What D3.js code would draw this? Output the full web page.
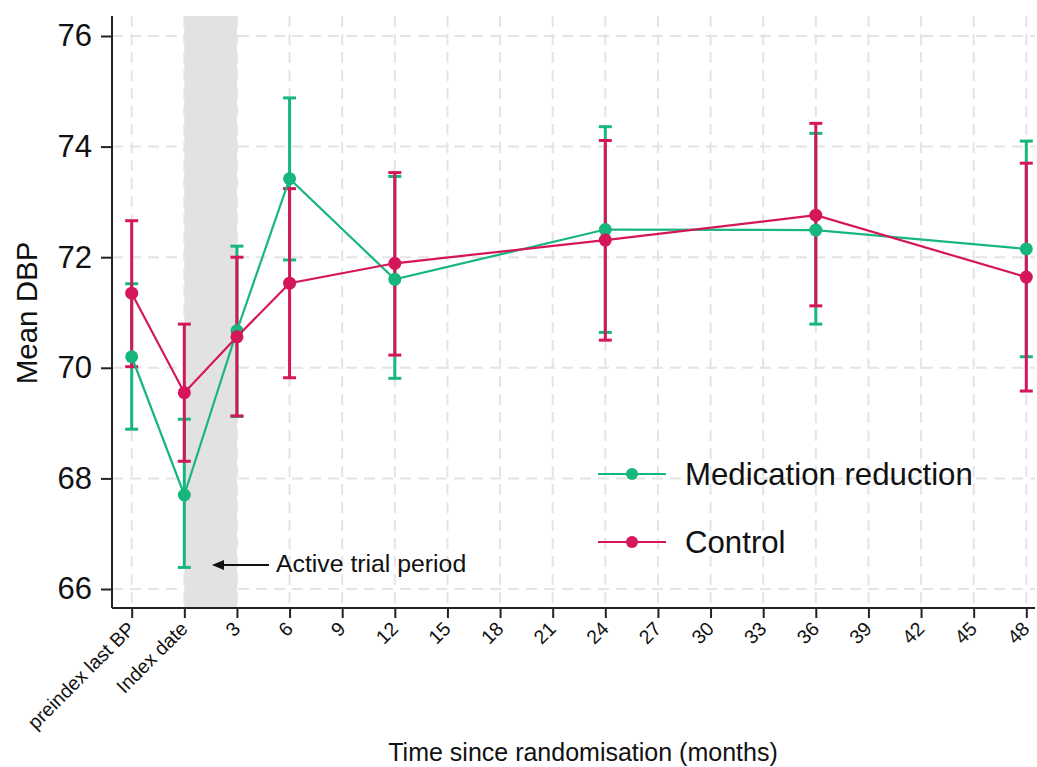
<!DOCTYPE html>
<html>
<head>
<meta charset="utf-8">
<script src="https://cdn.jsdelivr.net/npm/d3@7"></script>
<style>
  body { margin: 0; background: #fff; }
  svg { display: block; font-family: "Liberation Sans", Arial, sans-serif; }
</style>
</head>
<body>
<div id="chart"></div>
<script>
// data (months since randomisation, -3 = preindex last BP)
const months = [-3, 0, 3, 6, 12, 24, 36, 48];
const medMean = [70.2, 67.7, 70.67, 73.42, 71.6, 72.5, 72.49, 72.15];
const medLo   = [68.89, 66.39, 69.12, 71.95, 69.81, 70.64, 70.79, 70.2];
const medHi   = [71.52, 69.07, 72.2, 74.88, 73.46, 74.36, 74.24, 74.1];
const ctlMean = [71.35, 69.55, 70.56, 71.53, 71.89, 72.31, 72.76, 71.64];
const ctlLo   = [70.02, 68.31, 69.13, 69.82, 70.23, 70.5, 71.12, 69.58];
const ctlHi   = [72.66, 70.79, 72.0, 73.24, 73.53, 74.11, 74.42, 73.7];

const xTicks = [-3, 0, 3, 6, 9, 12, 15, 18, 21, 24, 27, 30, 33, 36, 39, 42, 45, 48];
const xTickLabels = ["preindex last BP", "Index date"]; // the rest are numbers
const yTicks = [66, 68, 70, 72, 74, 76];
const seriesNames = ["Medication reduction", "Control"];
const colors = ["#17b67c", "#d5165a"];

const width = 1037, height = 767;
const plot = { left: 112, right: 1035, top: 16, bottom: 608 };

const svg = d3.select("#chart").append("svg")
  .attr("width", width).attr("height", height);

const x = d3.scaleLinear().domain([-3, 48]).range([131.7, 1026.3]);
const y = d3.scaleLinear().domain([66, 76]).range([589, 36]);

// shaded active trial period
svg.append("rect")
  .attr("x", x(0)).attr("y", plot.top)
  .attr("width", x(3) - x(0)).attr("height", plot.bottom - plot.top)
  .attr("fill", "#e2e2e2");

// grid
const grid = svg.append("g").attr("stroke", "#e4e4e4").attr("stroke-width", 2)
  .attr("stroke-dasharray", "11,7");
grid.selectAll(".hg").data(yTicks).join("line")
  .attr("x1", plot.left).attr("x2", plot.right)
  .attr("y1", d => y(d)).attr("y2", d => y(d));
grid.selectAll(".vg").data(xTicks).join("line")
  .attr("x1", d => x(d)).attr("x2", d => x(d))
  .attr("y1", plot.top).attr("y2", plot.bottom);

// axes
const yAxis = svg.append("g")
  .attr("transform", `translate(${plot.left},0)`)
  .call(d3.axisLeft(y).tickValues(yTicks).tickSize(11).tickPadding(9));
yAxis.select(".domain").attr("d", `M0,${plot.top}V${plot.bottom}`);
yAxis.selectAll("text").attr("font-size", 31).attr("fill", "#111");

const xAxis = svg.append("g")
  .attr("transform", `translate(0,${plot.bottom})`)
  .call(d3.axisBottom(x).tickValues(xTicks).tickSize(10)
    .tickFormat((d, i) => i < 2 ? xTickLabels[i] : d));
xAxis.select(".domain").attr("d", `M${plot.left},0H${plot.right}`);
xAxis.selectAll("text")
  .attr("font-size", 19.5).attr("fill", "#111")
  .attr("text-anchor", "end")
  .attr("dy", null).attr("y", 0)
  .attr("transform", "translate(4,22) rotate(-45)");

svg.selectAll(".domain, .tick line").attr("stroke", "#222").attr("stroke-width", 2);

// axis titles
svg.append("text")
  .attr("transform", "translate(37,313) rotate(-90)")
  .attr("text-anchor", "middle").attr("font-size", 29.5).attr("fill", "#111")
  .text("Mean DBP");
svg.append("text")
  .attr("x", 583).attr("y", 761)
  .attr("text-anchor", "middle").attr("font-size", 25).attr("fill", "#111")
  .text("Time since randomisation (months)");

// error bars, then lines and markers
const series = [
  { mean: medMean, lo: medLo, hi: medHi },
  { mean: ctlMean, lo: ctlLo, hi: ctlHi }
];

series.forEach((s, k) => {
  const g = svg.append("g").attr("stroke", colors[k]).attr("stroke-width", 3);
  const rows = months.map((m, i) => ({ m, lo: s.lo[i], hi: s.hi[i] }));
  g.selectAll(".bar").data(rows).join("line")
    .attr("x1", d => x(d.m)).attr("x2", d => x(d.m))
    .attr("y1", d => y(d.lo)).attr("y2", d => y(d.hi));
  g.selectAll(".capHi").data(rows).join("line")
    .attr("x1", d => x(d.m) - 6.5).attr("x2", d => x(d.m) + 6.5)
    .attr("y1", d => y(d.hi)).attr("y2", d => y(d.hi));
  g.selectAll(".capLo").data(rows).join("line")
    .attr("x1", d => x(d.m) - 6.5).attr("x2", d => x(d.m) + 6.5)
    .attr("y1", d => y(d.lo)).attr("y2", d => y(d.lo));
});

const line = d3.line().x(d => x(d.m)).y(d => y(d.v));
series.forEach((s, k) => {
  const pts = months.map((m, i) => ({ m, v: s.mean[i] }));
  svg.append("path").datum(pts)
    .attr("d", line).attr("fill", "none")
    .attr("stroke", colors[k]).attr("stroke-width", 2.2);
  svg.append("g").selectAll("circle").data(pts).join("circle")
    .attr("cx", d => x(d.m)).attr("cy", d => y(d.v)).attr("r", 6.5)
    .attr("fill", colors[k]);
});

// legend
const legendY = [474, 542];
seriesNames.forEach((name, k) => {
  const lg = svg.append("g").attr("transform", `translate(598,${legendY[k]})`);
  lg.append("line").attr("x1", 0).attr("x2", 68)
    .attr("stroke", colors[k]).attr("stroke-width", 2);
  lg.append("circle").attr("cx", 34).attr("r", 6).attr("fill", colors[k]);
  lg.append("text").attr("x", 87).attr("y", 11)
    .attr("font-size", 31.2).attr("fill", "#111").text(name);
});

// annotation
svg.append("line")
  .attr("x1", 269).attr("x2", 220).attr("y1", 565).attr("y2", 565)
  .attr("stroke", "#111").attr("stroke-width", 2);
svg.append("path")
  .attr("d", "M212,565 L224,560 L224,570 Z").attr("fill", "#111");
svg.append("text")
  .attr("x", 276).attr("y", 572).attr("font-size", 24.8).attr("fill", "#111")
  .text("Active trial period");
</script>
</body>
</html>
